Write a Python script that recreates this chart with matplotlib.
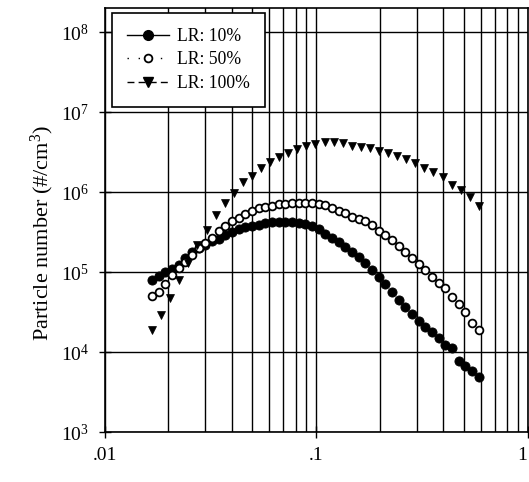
import matplotlib
matplotlib.use("Agg")
import matplotlib.pyplot as plt
from matplotlib.lines import Line2D
from matplotlib.ticker import FixedLocator, FixedFormatter, NullFormatter

plt.rcParams['font.family'] = ['Liberation Serif', 'DejaVu Serif']
plt.rcParams['mathtext.fontset'] = 'custom'
plt.rcParams['mathtext.rm'] = 'Liberation Serif'
plt.rcParams['mathtext.it'] = 'Liberation Serif:italic'

# Particle diameter (shared by LR 10% and LR 50%)
d_circ = [0.01679, 0.01805, 0.01941, 0.02087, 0.02244, 0.02413, 0.02594, 0.02789,
          0.02999, 0.03225, 0.03467, 0.03728, 0.04009, 0.04310, 0.04634, 0.04983,
          0.05358, 0.05761, 0.06194, 0.06660, 0.07161, 0.07700, 0.08279, 0.08902,
          0.09572, 0.1029, 0.1107, 0.1190, 0.1279, 0.1375, 0.1479, 0.1590,
          0.1710, 0.1838, 0.1977, 0.2125, 0.2285, 0.2457, 0.2642, 0.2841,
          0.3055, 0.3285, 0.3532, 0.3797, 0.4083, 0.4390, 0.4721, 0.5076,
          0.5458, 0.5868]

lr10 = [79400, 89100, 100000, 109000, 122000, 150000, 178000, 200000,
        218000, 244000, 262000, 290000, 316000, 340000, 360000, 376000,
        392000, 410000, 422000, 422000, 422000, 416000, 410000, 398000,
        376000, 345000, 298000, 266000, 237000, 205000, 178000, 154000,
        130000, 106000, 86600, 70800, 56200, 44700, 36500, 29900,
        24400, 20500, 17800, 15000, 12200, 11200, 7720, 6680,
        5790, 4870]

lr50 = [50100, 57000, 70800, 91700, 112000, 133000, 163000, 197000,
        230000, 266000, 321000, 376000, 434000, 480000, 531000, 579000,
        622000, 649000, 678000, 708000, 718000, 729000, 729000, 729000,
        729000, 718000, 688000, 640000, 587000, 546000, 494000, 460000,
        434000, 387000, 330000, 290000, 251000, 214000, 178000, 150000,
        126000, 106000, 86600, 72900, 63100, 48700, 39800, 31200,
        23000, 18800]

# Particle diameter for LR 100%
d_tri = [0.01679, 0.01853, 0.02046, 0.02258, 0.02492, 0.02751, 0.03037, 0.03352,
         0.03700, 0.04084, 0.04508, 0.04976, 0.05493, 0.06063, 0.06692, 0.07387,
         0.08154, 0.09001, 0.09935, 0.1097, 0.1211, 0.1336, 0.1475, 0.1628,
         0.1797, 0.1984, 0.2190, 0.2417, 0.2668, 0.2945, 0.3251, 0.3592,
         0.3965, 0.4377, 0.4831, 0.5333, 0.5887]

lr100 = [18800, 29000, 47300, 79400, 130000, 218000, 335000, 516000,
         729000, 972000, 1315000, 1585000, 2000000, 2370000, 2700000, 3070000,
         3450000, 3760000, 3980000, 4160000, 4220000, 4040000, 3810000, 3650000,
         3550000, 3300000, 3030000, 2780000, 2580000, 2300000, 2000000, 1780000,
         1540000, 1220000, 1060000, 866000, 668000]

labels = ['LR: 10%', 'LR: 50%', 'LR: 100%']
x_ticks = [0.01, 0.1, 1]
x_ticklabels = ['.01', '.1', '1']
y_ticks = [1e3, 1e4, 1e5, 1e6, 1e7, 1e8]
y_ticklabels = [r'$10^{3}$', r'$10^{4}$', r'$10^{5}$', r'$10^{6}$', r'$10^{7}$', r'$10^{8}$']

fig = plt.figure(figsize=(5.29, 4.82), dpi=100)
ax = fig.add_axes([104.5/529, 50/482, 423/529, 424/482])
ax.set_xscale('log')
ax.set_yscale('log')
ax.set_xlim(0.01, 1)
ax.set_ylim(1e3, 10**8.3)

# grid
ax.set_axisbelow(True)
ax.xaxis.grid(True, which='both', color='black', linewidth=1.0)
ax.yaxis.grid(True, which='major', color='black', linewidth=1.0)
ax.yaxis.grid(False, which='minor')

ax.plot(d_circ, lr10, linestyle='none', marker='o', markersize=6.6,
        markerfacecolor='black', markeredgecolor='black', markeredgewidth=0.6)
ax.plot(d_circ, lr50, linestyle='none', marker='o', markersize=5.6,
        markerfacecolor='white', markeredgecolor='black', markeredgewidth=1.3)
ax.plot(d_tri, lr100, linestyle='none', marker='v', markersize=5.4,
        markerfacecolor='black', markeredgecolor='black', markeredgewidth=0.5)

ax.xaxis.set_major_locator(FixedLocator(x_ticks))
ax.xaxis.set_major_formatter(FixedFormatter(x_ticklabels))
ax.xaxis.set_minor_formatter(NullFormatter())
ax.yaxis.set_major_locator(FixedLocator(y_ticks))
ax.yaxis.set_major_formatter(FixedFormatter(y_ticklabels))
ax.yaxis.set_minor_locator(FixedLocator([]))
ax.tick_params(axis='both', which='major', direction='inout', length=9,
               width=1.0, labelsize=14, colors='black')
ax.tick_params(axis='x', which='minor', length=0)
ax.tick_params(axis='x', which='major', pad=6)
ax.tick_params(axis='y', which='major', pad=6.5)
for s in ax.spines.values():
    s.set_linewidth(1.2)
    s.set_color('black')

fig.canvas.draw()
xtl = ax.get_xticklabels()
xtl[-1].set_horizontalalignment('right')

ax.set_ylabel(r'Particle number (#/cm$^{3}$)', fontsize=16)
ax.yaxis.set_label_coords((56 - 104.5) / 423, (432 - 233) / 424)

handles = [
    Line2D([], [], color='black', linestyle='-', linewidth=1.0, marker='o',
           markersize=7, markerfacecolor='black'),
    Line2D([], [], color='black', linestyle=(0, (1, 7)), linewidth=1.0, marker='o',
           markersize=5.6, markerfacecolor='white', markeredgewidth=1.3),
    Line2D([], [], color='black', linestyle=(0, (5, 3)), linewidth=1.0, marker='v',
           markersize=7, markerfacecolor='black'),
]
leg = ax.legend(handles, labels, loc='upper left',
                bbox_to_anchor=((112-104.5)/423, (432-13)/424),
                borderaxespad=0, fontsize=12.7, frameon=True, fancybox=False,
                edgecolor='black', framealpha=1, handlelength=2.4,
                handletextpad=0.45, labelspacing=0.36, borderpad=0.85)
leg.get_frame().set_linewidth(1.2)

fig.savefig('out.png', dpi=100)
